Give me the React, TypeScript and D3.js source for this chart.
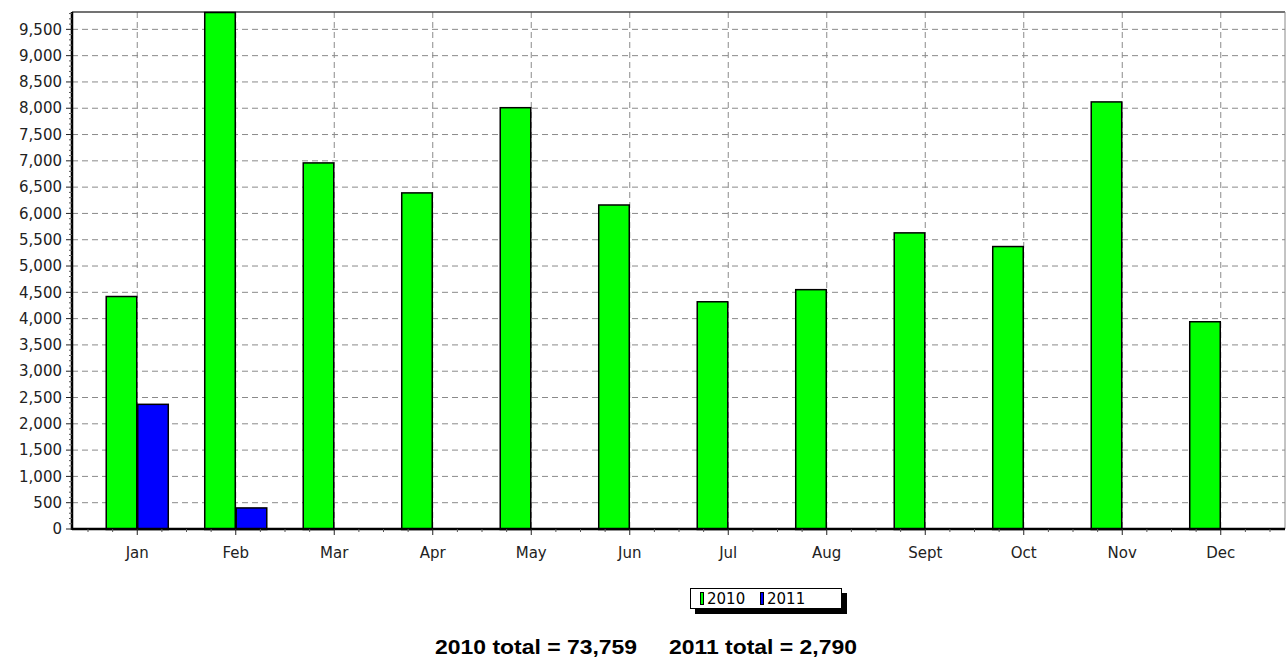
import * as d3 from 'd3';

const MONTHS = ['Jan', 'Feb', 'Mar', 'Apr', 'May', 'Jun', 'Jul', 'Aug', 'Sept', 'Oct', 'Nov', 'Dec'];
const SERIES = ['2010', '2011'];
const VALUES_2010 = [4430, 9830, 6970, 6400, 8020, 6170, 4330, 4560, 5640, 5380, 8130, 3950];
const VALUES_2011 = [2380, 410, 0, 0, 0, 0, 0, 0, 0, 0, 0, 0];
const COLORS = ['#00ff00', '#0000ff'];
const Y_TICKS = d3.range(0, 10000, 500);
const TOTALS_TEXT = '2010 total = 73,759     2011 total = 2,790';

const W = 1286;
const H = 660;
const plot = { left: 72, right: 1285, top: 12, bottom: 529 };
const font = 'Tahoma, "DejaVu Sans", sans-serif';

export default function App() {
  const yMax = d3.max(VALUES_2010) ?? 1;
  const y = d3.scaleLinear().domain([0, yMax]).range([plot.bottom, plot.top]);
  const x = d3.scaleBand<string>().domain(MONTHS).range([plot.left + 16, plot.right - 15]).padding(0);
  const step = x.step();
  const groupW = step * 0.64;
  const inner = d3.scaleBand<string>().domain(SERIES).range([0, groupW]);
  const series = [VALUES_2010, VALUES_2011];

  // minor ticks: quarter steps, skipping the month centre (major tick)
  const minorX = d3.range(0, MONTHS.length * 4 + 1).filter(i => i % 4 !== 2).map(i => (x(MONTHS[0]) ?? 0) + (i * step) / 4);
  const minorY = d3.range(0, yMax, 100).filter(v => v % 500 !== 0);

  const grid = '#8a8a8a';

  return (
    <div style={{ position: 'fixed', left: 0, top: 0 }}>
      <svg width={W} height={H} style={{ display: 'block', background: '#fff' }}>
        {/* grid */}
        {Y_TICKS.filter(v => v > 0).map(v => (
          <line key={'gy' + v} x1={plot.left} x2={plot.right} y1={y(v)} y2={y(v)}
            stroke={grid} strokeDasharray="6,4" />
        ))}
        {MONTHS.map(m => {
          const cx = (x(m) ?? 0) + step / 2;
          return <line key={'gx' + m} x1={cx} x2={cx} y1={plot.top} y2={plot.bottom}
            stroke={grid} strokeDasharray="6,4" />;
        })}

        {/* frame */}
        <line x1={plot.left} x2={plot.right} y1={plot.top} y2={plot.top} stroke="#444" strokeWidth={1.5} />
        <line x1={plot.right} x2={plot.right} y1={plot.top} y2={plot.bottom} stroke="#888" strokeWidth={1} />

        {/* bars */}
        {MONTHS.map((m, i) => {
          const gx = (x(m) ?? 0) + step / 2 - groupW / 2;
          return series.map((vals, s) => {
            const v = vals[i];
            if (!v) return null;
            const bx = gx + (inner(SERIES[s]) ?? 0);
            return (
              <rect key={m + s} x={bx + 0.5} y={y(v) + 0.5} width={inner.bandwidth() - 1}
                height={plot.bottom - y(v)} fill={COLORS[s]} stroke="#000" strokeWidth={1.5} />
            );
          });
        })}

        {/* y axis */}
        <line x1={plot.left} x2={plot.left} y1={plot.top} y2={plot.bottom + 1} stroke="#000" strokeWidth={2.5} />
        {minorY.map(v => (
          <line key={'my' + v} x1={plot.left - 3} x2={plot.left} y1={y(v)} y2={y(v)} stroke="#555" />
        ))}
        {Y_TICKS.map(v => (
          <g key={'ty' + v}>
            <line x1={plot.left - 6} x2={plot.left} y1={y(v)} y2={y(v)} stroke="#222" />
            <text x={plot.left - 10} y={y(v)} dy="0.35em" textAnchor="end" fontSize={15}
              fontFamily={font} fill="#222">{d3.format(',')(v)}</text>
          </g>
        ))}

        {/* x axis */}
        <line x1={plot.left} x2={plot.right} y1={plot.bottom} y2={plot.bottom} stroke="#000" strokeWidth={2.5} />
        {minorX.map((mx, i) => (
          <line key={'mx' + i} x1={mx} x2={mx} y1={plot.bottom} y2={plot.bottom + 3} stroke="#555" />
        ))}
        {MONTHS.map(m => {
          const cx = (x(m) ?? 0) + step / 2;
          return (
            <g key={'tx' + m}>
              <line x1={cx} x2={cx} y1={plot.bottom} y2={plot.bottom + 6} stroke="#222" />
              <text x={cx} y={553} dy="0.35em" textAnchor="middle" fontSize={15} fontFamily={font} fill="#222">{m}</text>
            </g>
          );
        })}

        {/* legend */}
        <g transform="translate(690,588)">
          <rect x={5} y={5} width={152} height={21} fill="#000" />
          <rect x={0.5} y={0.5} width={151} height={20} fill="#fff" stroke="#000" />
          {SERIES.map((s, i) => (
            <g key={'lg' + s} transform={`translate(${10 + i * 60},0)`}>
              <rect x={0.5} y={4.5} width={3} height={12} fill={COLORS[i]} stroke="#000" />
              <text x={7} y={10.5} dy="0.35em" fontSize={15} fontFamily={font} fill="#000">{s}</text>
            </g>
          ))}
        </g>

        {/* totals */}
        <text x={435} y={654} fontSize={21} fontWeight="bold"
          fontFamily='"Liberation Sans Narrow", "Arial Narrow", "Liberation Sans", sans-serif' fill="#000"
          textLength={422} lengthAdjust="spacingAndGlyphs"
          style={{ whiteSpace: 'pre' }}>{TOTALS_TEXT}</text>
      </svg>
    </div>
  );
}
